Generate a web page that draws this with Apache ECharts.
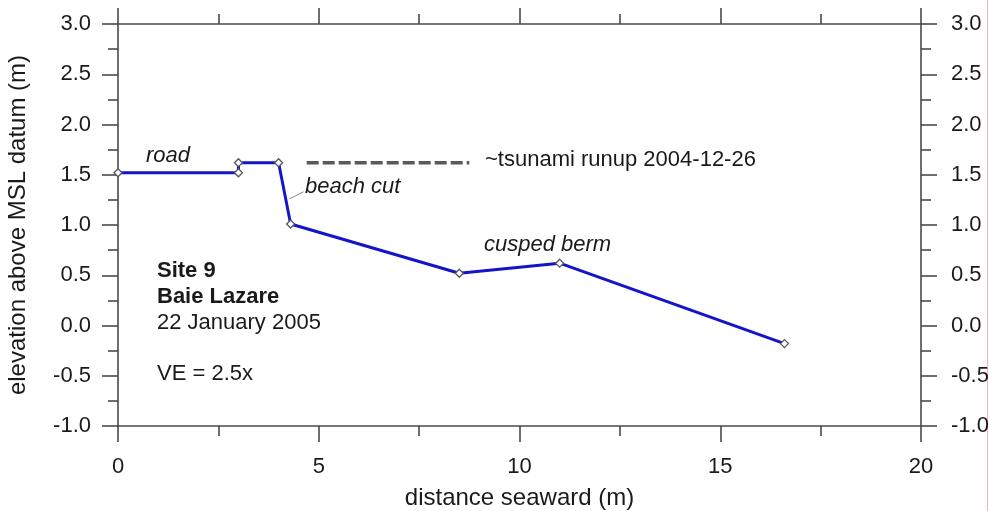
<!DOCTYPE html>
<html>
<head>
<meta charset="utf-8">
<script src="https://cdn.jsdelivr.net/npm/echarts@6/dist/echarts.min.js"></script>
<style>
  html, body { margin: 0; padding: 0; background: #fff; }
  #chart { width: 989px; height: 511px; }
</style>
</head>
<body>
<div id="chart"></div>
<script>
// Beach profile, Site 9 (Baie Lazare), surveyed 22 January 2005
const distance = [0, 3.0, 3.0, 4.0, 4.3, 8.5, 11.0, 16.6];          // m seaward
const elevation = [1.52, 1.52, 1.62, 1.62, 1.01, 0.52, 0.62, -0.18]; // m above MSL

// Estimated tsunami runup level (26 December 2004)
const runupX = [4.7, 8.75];
const runupY = [1.62, 1.62];

// Leader line from the "beach cut" label to the scarp
const leaderX = [4.27, 4.62];
const leaderY = [1.26, 1.33];

const xTicks = [0, 5, 10, 15, 20];
const yTicks = [-1.0, -0.5, 0.0, 0.5, 1.0, 1.5, 2.0, 2.5, 3.0];

const FONT = '"Liberation Sans", Arial, sans-serif';
const AXIS_COLOR = '#4a4a4a';
const TEXT_COLOR = '#1a1a1a';
const LABEL_SIZE = 22;
const NOTE_SIZE = 22;
const TITLE_SIZE = 24;

const chart = echarts.init(document.getElementById('chart'), null, { renderer: 'canvas' });

function valueAxis(extra) {
  return Object.assign({
    type: 'value',
    axisLine: { show: true, onZero: false, lineStyle: { color: AXIS_COLOR, width: 1.6 } },
    axisTick: { show: true, inside: false, length: 16, lineStyle: { color: AXIS_COLOR, width: 1.6 } },
    minorTick: { show: true, splitNumber: 2, length: 10, lineStyle: { color: AXIS_COLOR, width: 1.6 } },
    splitLine: { show: false },
    minorSplitLine: { show: false },
    axisLabel: { color: TEXT_COLOR, fontFamily: FONT, fontSize: LABEL_SIZE },
    nameTextStyle: { color: TEXT_COLOR, fontFamily: FONT, fontSize: TITLE_SIZE }
  }, extra);
}

const yMin = yTicks[0], yMax = yTicks[yTicks.length - 1];
const xMin = xTicks[0], xMax = xTicks[xTicks.length - 1];

const option = {
  backgroundColor: '#ffffff',
  animation: false,
  grid: { left: 118, right: 68, top: 24, bottom: 85, containLabel: false, outerBoundsMode: 'none' },
  xAxis: [
    valueAxis({
      position: 'bottom', min: xMin, max: xMax, interval: 5,
      axisLabel: { color: TEXT_COLOR, fontFamily: FONT, fontSize: LABEL_SIZE, margin: 30 },
      name: 'distance seaward (m)', nameLocation: 'middle', nameGap: 60
    }),
    valueAxis({
      position: 'top', min: xMin, max: xMax, interval: 5,
      axisLabel: { show: false }
    })
  ],
  yAxis: [
    valueAxis({
      position: 'left', min: yMin, max: yMax, interval: 0.5,
      axisLabel: { color: TEXT_COLOR, fontFamily: FONT, fontSize: LABEL_SIZE, margin: 27,
                   formatter: v => v.toFixed(1) },
      name: 'elevation above MSL datum (m)', nameLocation: 'middle', nameGap: 88, nameRotate: 90
    }),
    valueAxis({
      position: 'right', min: yMin, max: yMax, interval: 0.5,
      axisLabel: { color: TEXT_COLOR, fontFamily: FONT, fontSize: LABEL_SIZE, margin: 30,
                   formatter: v => v.toFixed(1) }
    })
  ],
  series: [
    {
      type: 'line',
      name: 'runup',
      data: runupX.map((x, i) => [x, runupY[i]]),
      symbol: 'none',
      lineStyle: { color: '#5a5a5a', width: 3.5, type: [12, 4] },
      z: 3
    },
    {
      type: 'line',
      name: 'leader',
      data: leaderX.map((x, i) => [x, leaderY[i]]),
      symbol: 'none',
      lineStyle: { color: '#8a8a8a', width: 1 },
      z: 3
    },
    {
      type: 'line',
      name: 'profile',
      data: distance.map((x, i) => [x, elevation[i]]),
      symbol: 'diamond',
      symbolSize: 8,
      itemStyle: { color: '#ffffff', borderColor: '#555566', borderWidth: 1.3 },
      lineStyle: { color: '#1414c8', width: 3 },
      z: 4
    }
  ],
  graphic: [
    // thin guide at the right edge of the sheet
    { type: 'line', shape: { x1: 987.5, y1: 0, x2: 987.5, y2: 511 },
      style: { stroke: '#f3b4b4', lineWidth: 1 }, silent: true },
    { type: 'text', left: 146, top: 145,
      style: { text: 'road', font: 'italic ' + NOTE_SIZE + 'px ' + FONT, fill: TEXT_COLOR } },
    { type: 'text', left: 305, top: 176,
      style: { text: 'beach cut', font: 'italic ' + NOTE_SIZE + 'px ' + FONT, fill: TEXT_COLOR } },
    { type: 'text', left: 484, top: 234,
      style: { text: 'cusped berm', font: 'italic ' + NOTE_SIZE + 'px ' + FONT, fill: TEXT_COLOR } },
    { type: 'text', left: 485, top: 149,
      style: { text: '~tsunami runup 2004-12-26', font: NOTE_SIZE + 'px ' + FONT, fill: TEXT_COLOR } },
    { type: 'text', left: 157, top: 260,
      style: { text: 'Site 9', font: 'bold ' + NOTE_SIZE + 'px ' + FONT, fill: TEXT_COLOR } },
    { type: 'text', left: 157, top: 286,
      style: { text: 'Baie Lazare', font: 'bold ' + NOTE_SIZE + 'px ' + FONT, fill: TEXT_COLOR } },
    { type: 'text', left: 157, top: 312,
      style: { text: '22 January 2005', font: NOTE_SIZE + 'px ' + FONT, fill: TEXT_COLOR } },
    { type: 'text', left: 157, top: 363,
      style: { text: 'VE = 2.5x', font: NOTE_SIZE + 'px ' + FONT, fill: TEXT_COLOR } }
  ]
};

chart.setOption(option);
</script>
</body>
</html>
